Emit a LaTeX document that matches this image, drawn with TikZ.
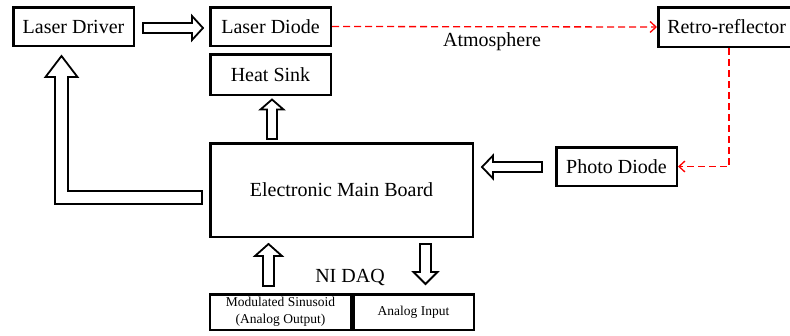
\documentclass[tikz,border=0pt]{standalone}
\usepackage{fontspec}
\setmainfont{LiberationSerif}[Extension=.ttf, UprightFont=*-Regular, BoldFont=*-Bold, ItalicFont=*-Italic, BoldItalicFont=*-BoldItalic]
\usetikzlibrary{calc,arrows.meta}
\newcommand{\hollowarrow}[5]{%
  \draw[blockarrow] let \p1=#1, \p2=#2, \n1={atan2(\y2-\y1,\x2-\x1)}, \n2={veclen(\x2-\x1,\y2-\y1)} in
  [shift={(\p1)}, rotate=\n1] (0,-#3) -- ({\n2-#5},-#3) -- ({\n2-#5},-#4) -- (\n2,0) -- ({\n2-#5},#4) -- ({\n2-#5},#3) -- (0,#3) -- cycle;}
\begin{document}
\begin{tikzpicture}[x=1pt,y=-1pt,
  box/.style={draw, line width=2.5pt, inner sep=0pt, minimum width=120.5pt, minimum height=38.5pt, font=\fontsize{20}{24}\selectfont},
  smallbox/.style={draw, line width=2.5pt, inner sep=0pt, minimum height=35.5pt, font=\fontsize{13.5}{17}\selectfont, align=center},
  blockarrow/.style={draw, line width=1.8pt, fill=white, line join=miter},
  reddash/.style={draw=red, line width=1.3pt, dash pattern=on 7pt off 4pt, -{Straight Barb[length=6pt,width=11pt,line width=1.3pt]}},
  lbl/.style={font=\fontsize{20}{24}\selectfont, inner sep=0pt}]
\useasboundingbox (0,0) rectangle (790,335);
\node[box] (ldr) at (73.5,26.5) {Laser Driver};
\node[box] (ldi) at (270.5,26.5) {Laser Diode};
\node[box, minimum height=40.5pt] (hs) at (270.5,74.5) {Heat Sink};
\node[box, minimum width=262.5pt, minimum height=93.5pt] (main) at (341.5,190) {Electronic Main Board};
\node[box, minimum width=132.5pt, minimum height=39.5pt, text width=132.5pt, align=left] (rr) at (724.5,27) {\hspace*{9pt}Retro-reflector};
\node[box] (pd) at (616.5,166.5) {Photo Diode};
\node[smallbox, minimum width=141.5pt] (daqL) at (280.5,312) {Modulated Sinusoid\\(Analog Output)};
\node[smallbox, minimum width=120.5pt] (daqR) at (413.5,312) {Analog Input};
\node[lbl] (atm) at (492,42) {Atmosphere};
\node[lbl] (daq) at (350,277) {NI DAQ};
% hollow arrows
\hollowarrow{($(ldr.east)+(8,1.5)$)}{($(ldi.west)+(-6,1.5)$)}{5}{12}{11}
\coordinate (hsA) at ($(hs.south)+(1.5,3.5)$);
\coordinate (hsB) at ($(hsA|-main.north)+(0,-3)$);
\hollowarrow{(hsB)}{(hsA)}{5}{11.5}{10}
\coordinate (pdA) at ($(pd.west)+(-13,0.5)$);
\coordinate (pdB) at ($(pdA-|main.east)+(8,0)$);
\hollowarrow{(pdA)}{(pdB)}{5}{11.5}{11}
\coordinate (upA) at ($(daqL.north)+(-12,-7)$);
\coordinate (upB) at ($(upA|-main.south)+(0,6)$);
\hollowarrow{(upA)}{(upB)}{5.5}{13.5}{12}
\coordinate (dnA) at ($(daqR.north)+(12,0)$);
\coordinate (dnB) at ($(dnA|-main.south)+(0,6)$);
\hollowarrow{(dnB)}{($(dnA)+(0,-9)$)}{5.5}{12}{12}
% L-shaped arrow
\coordinate (Ltip) at ($(ldr.south)+(-12,9)$);
\coordinate (Lend) at ($(main.west)+(-7,7.5)$);
\draw[blockarrow] ($(Lend)+(0,-6.5)$) -- ($(Lend -| Ltip)+(6.5,-6.5)$) -- ($(Ltip)+(6.5,21)$) -- ($(Ltip)+(16,21)$) -- (Ltip) -- ($(Ltip)+(-16,21)$) -- ($(Ltip)+(-6.5,21)$) -- ($(Lend -| Ltip)+(-6.5,6.5)$) -- ($(Lend)+(0,6.5)$) -- cycle;
% red dashed
\draw[reddash] (ldi.east) -- (rr.west);
\draw[reddash] ($(rr.south)+(4.5,0)$) |- (pd.east);
\end{tikzpicture}
\end{document}
